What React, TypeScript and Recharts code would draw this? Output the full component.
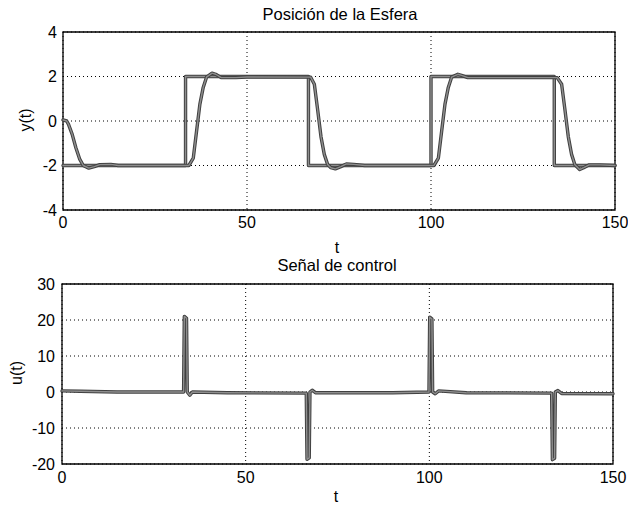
import React from 'react';
import { LineChart, Line, XAxis, YAxis, CartesianGrid, ReferenceArea } from 'recharts';

// ---- Data ----
const timeTicks = [0, 50, 100, 150];
const positionTicks = [-4, -2, 0, 2, 4];
const controlTicks = [-20, -10, 0, 10, 20, 30];

// reference square wave [t, y]
const referencePoints: [number, number][] = [
  [0, -2], [33.3, -2], [33.3, 2], [66.7, 2], [66.7, -2],
  [100, -2], [100, 2], [133.5, 2], [133.5, -2], [150, -2],
];

// sphere position response [t, y]
const responsePoints: [number, number][] = [
  [0, 0.05], [1, 0], [1.5, -0.15], [2.5, -0.6], [3.5, -1.2], [4.5, -1.7], [5.5, -2.0],
  [7, -2.12], [8.5, -2.05], [10, -1.96], [13, -1.95], [15, -2.0], [34.2, -2.0],
  [35.4, -1.67], [36.3, -0.45], [37.2, 0.76], [38.1, 1.51], [39, 1.97], [40.5, 2.15],
  [41.5, 2.1], [43, 1.95], [47, 1.95], [50, 1.98], [67.3, 1.97], [68.3, 1.65],
  [69.2, 0.5], [70.1, -0.7], [71, -1.5], [71.9, -1.95], [72.8, -2.1], [74, -2.15],
  [75.5, -2.05], [77, -1.93], [79, -1.95], [82, -2.0], [100.8, -2.0], [102, -1.67],
  [102.9, -0.45], [103.8, 0.76], [104.7, 1.51], [105.6, 1.97], [107.3, 2.1],
  [108.3, 2.05], [110, 1.95], [115, 1.95], [134.3, 1.95], [135.5, 1.65], [136.4, 0.5],
  [137.3, -0.7], [138.2, -1.5], [139.1, -1.97], [140.4, -2.18], [141.5, -2.1],
  [143, -1.97], [146, -1.97], [150, -2.0],
];

// control signal [t, u]
const controlPoints: [number, number][] = [
  [0, 0.3], [5, 0.2], [15, 0], [33.1, 0], [33.3, 21], [33.9, 20.5], [34.1, 0],
  [34.8, -0.9], [35.5, 0], [45, -0.2], [66.5, -0.3], [66.7, -18.7], [67.3, -18.3],
  [67.5, 0], [68.1, 0.5], [69, -0.2], [90, -0.2], [99.9, 0], [100.1, 20.8],
  [100.7, 20.3], [100.9, 0], [101.6, -0.5], [102.5, 0.3], [110, -0.2], [133.3, -0.3],
  [133.5, -18.8], [134.1, -18.4], [134.3, 0], [135, 0.4], [136, -0.4], [150, -0.5],
];

const toRows = (pts: [number, number][]) => pts.map(([t, v]) => ({ t, v }));

const FONT = "'Liberation Sans', Arial, sans-serif";
const tickStyle = { fill: '#000', fontSize: 16, fontFamily: FONT };
const edgeColor = '#404040';
const fillColor = '#8e8e8e';

const textBase: React.CSSProperties = {
  position: 'absolute',
  fontFamily: FONT,
  color: '#000',
  lineHeight: 1,
  whiteSpace: 'nowrap',
};

const series = (pts: [number, number][], key: string) => [
  <Line key={key + '-edge'} data={toRows(pts)} dataKey="v" stroke={edgeColor} strokeWidth={3.4} strokeLinejoin="round" strokeLinecap="round" dot={false} isAnimationActive={false} type="linear" />,
  <Line key={key + '-core'} data={toRows(pts)} dataKey="v" stroke={fillColor} strokeWidth={1.4} strokeLinejoin="round" strokeLinecap="round" dot={false} isAnimationActive={false} type="linear" />,
];

export default function App() {
  return (
    <div style={{ position: 'absolute', left: 0, top: 0, width: 628, height: 509, background: '#fff' }}>
      {/* Top subplot */}
      <div style={{ position: 'absolute', left: 0, top: 0 }}>
        <LineChart width={628} height={262} margin={{ top: 32, right: 13, left: 13, bottom: 2 }}>
          <CartesianGrid stroke="#000" strokeDasharray="1 3" />
          <XAxis
            dataKey="t"
            type="number"
            domain={[0, 150]}
            ticks={timeTicks}
            height={50}
            tickSize={0}
            tickMargin={7}
            axisLine={false}
            tickLine={false}
            tick={tickStyle}
            allowDuplicatedCategory={false}
          />
          <YAxis
            type="number"
            domain={[-4, 4]}
            ticks={positionTicks}
            width={50}
            tickSize={0}
            tickMargin={6}
            axisLine={false}
            tickLine={false}
            tick={tickStyle}
          />
          {series(referencePoints, 'ref')}
          {series(responsePoints, 'resp')}
          <ReferenceArea x1={0} x2={150} y1={-4} y2={4} fill="none" stroke="#000" strokeWidth={1.3} ifOverflow="visible" />
        </LineChart>
      </div>

      {/* Bottom subplot */}
      <div style={{ position: 'absolute', left: 0, top: 250 }}>
        <LineChart width={628} height={259} margin={{ top: 34, right: 15, left: 12, bottom: 2 }}>
          <CartesianGrid stroke="#000" strokeDasharray="1 3" />
          <XAxis
            dataKey="t"
            type="number"
            domain={[0, 150]}
            ticks={timeTicks}
            height={43}
            tickSize={0}
            tickMargin={8}
            axisLine={false}
            tickLine={false}
            tick={tickStyle}
          />
          <YAxis
            type="number"
            domain={[-20, 30]}
            ticks={controlTicks}
            width={50}
            tickSize={0}
            tickMargin={7}
            axisLine={false}
            tickLine={false}
            tick={tickStyle}
          />
          {series(controlPoints, 'ctrl')}
          <ReferenceArea x1={0} x2={150} y1={-20} y2={30} fill="none" stroke="#000" strokeWidth={1.3} ifOverflow="visible" />
        </LineChart>
      </div>

      {/* Titles and axis labels */}
      <div style={{ ...textBase, fontSize: 16.5, left: 340, top: 6, transform: 'translateX(-50%)' }}>Posición de la Esfera</div>
      <div style={{ ...textBase, fontSize: 16, left: 337, top: 240, transform: 'translateX(-50%)' }}>t</div>
      <div style={{ ...textBase, fontSize: 16, left: 26, top: 120, transform: 'translate(-50%, -50%) rotate(-90deg)' }}>y(t)</div>

      <div style={{ ...textBase, fontSize: 16.5, left: 337, top: 257, transform: 'translateX(-50%)' }}>Señal de control</div>
      <div style={{ ...textBase, fontSize: 16, left: 336, top: 489, transform: 'translateX(-50%)' }}>t</div>
      <div style={{ ...textBase, fontSize: 16, left: 17, top: 373, transform: 'translate(-50%, -50%) rotate(-90deg)' }}>u(t)</div>
    </div>
  );
}
